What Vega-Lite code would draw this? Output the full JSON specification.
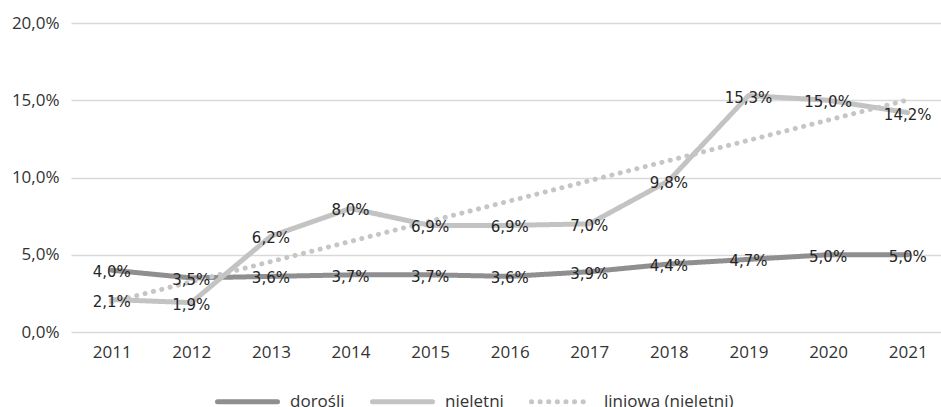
{
  "$schema": "https://vega.github.io/schema/vega-lite/v6.json",
  "width": 870,
  "height": 309,
  "autosize": {"type": "none"},
  "padding": {"left": 71, "top": 23, "right": 0, "bottom": 75},
  "background": "white",
  "config": {
    "locale": {"number": {"decimal": ",", "thousands": " ", "grouping": [3], "currency": ["", " zł"]}},
    "view": {"stroke": null},
    "axis": {"labelFont": "Open Sans", "labelFontSize": 17, "labelColor": "#333333", "ticks": false, "domain": false, "title": null}
  },
  "data": {
    "values": [
      {"year": "2011", "series": "dorośli", "value": 0.040},
      {"year": "2012", "series": "dorośli", "value": 0.035},
      {"year": "2013", "series": "dorośli", "value": 0.036},
      {"year": "2014", "series": "dorośli", "value": 0.037},
      {"year": "2015", "series": "dorośli", "value": 0.037},
      {"year": "2016", "series": "dorośli", "value": 0.036},
      {"year": "2017", "series": "dorośli", "value": 0.039},
      {"year": "2018", "series": "dorośli", "value": 0.044},
      {"year": "2019", "series": "dorośli", "value": 0.047},
      {"year": "2020", "series": "dorośli", "value": 0.050},
      {"year": "2021", "series": "dorośli", "value": 0.050},
      {"year": "2011", "series": "nieletni", "value": 0.021},
      {"year": "2012", "series": "nieletni", "value": 0.019},
      {"year": "2013", "series": "nieletni", "value": 0.062},
      {"year": "2014", "series": "nieletni", "value": 0.080},
      {"year": "2015", "series": "nieletni", "value": 0.069},
      {"year": "2016", "series": "nieletni", "value": 0.069},
      {"year": "2017", "series": "nieletni", "value": 0.070},
      {"year": "2018", "series": "nieletni", "value": 0.098},
      {"year": "2019", "series": "nieletni", "value": 0.153},
      {"year": "2020", "series": "nieletni", "value": 0.150},
      {"year": "2021", "series": "nieletni", "value": 0.142},
      {"year": "2011", "series": "liniowa (nieletni)", "value": 0.0194},
      {"year": "2021", "series": "liniowa (nieletni)", "value": 0.1502}
    ]
  },
  "encoding": {
    "x": {
      "field": "year", "type": "ordinal", "sort": null,
      "scale": {"type": "point", "padding": 0.465, "align": 0.55},
      "axis": {"labelAngle": 0, "labelPadding": 12, "grid": false}
    },
    "y": {
      "field": "value", "type": "quantitative",
      "scale": {"domain": [0, 0.2]},
      "axis": {"format": ".1%", "values": [0, 0.05, 0.1, 0.15, 0.2], "labelPadding": 12, "grid": true, "gridColor": "#d9d9d9", "gridWidth": 1.3}
    }
  },
  "layer": [
    {
      "mark": {"type": "line", "strokeCap": "round", "strokeJoin": "round"},
      "encoding": {
        "color": {
          "field": "series", "type": "nominal",
          "scale": {"domain": ["dorośli", "nieletni", "liniowa (nieletni)"], "range": ["#8f8f91", "#c3c3c3", "#c6c6c6"]},
          "legend": {
            "orient": "none", "legendX": 144, "legendY": 346, "direction": "horizontal", "title": null,
            "symbolType": "stroke", "symbolSize": 3600, "labelFont": "Open Sans", "labelFontSize": 17, "labelColor": "#333333",
            "labelOffset": 10, "columnPadding": 17, "padding": 0,
            "encode": {"symbols": {"update": {"strokeCap": {"value": "round"}}}}
          }
        },
        "strokeDash": {
          "field": "series", "type": "nominal",
          "scale": {"domain": ["dorośli", "nieletni", "liniowa (nieletni)"], "range": [[1, 0], [1, 0], [0.1, 8.5]]},
          "legend": null
        },
        "strokeWidth": {
          "field": "series", "type": "nominal",
          "scale": {"domain": ["dorośli", "nieletni", "liniowa (nieletni)"], "range": [5, 5, 4]},
          "legend": null
        }
      }
    },
    {
      "transform": [{"filter": "datum.series !== 'liniowa (nieletni)'"}],
      "mark": {"type": "text", "font": "DejaVu Sans", "fontSize": 15, "color": "#262626", "baseline": "middle", "align": "center", "dy": 2},
      "encoding": {
        "text": {"field": "value", "type": "quantitative", "format": ".1%"}
      }
    }
  ]
}
